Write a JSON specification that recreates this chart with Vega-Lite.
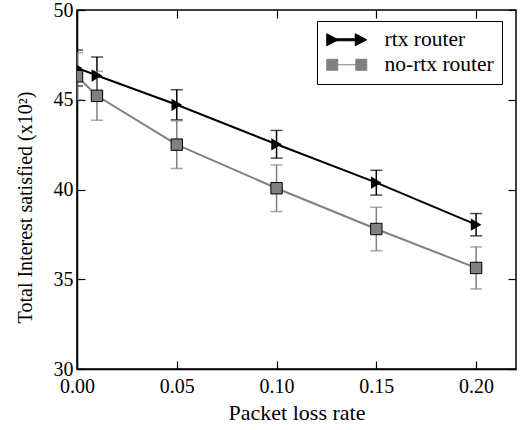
{
  "$schema": "https://vega.github.io/schema/vega-lite/v6.json",
  "width": 439,
  "height": 359,
  "autosize": {"type": "none"},
  "padding": {"left": 77, "top": 10, "right": 4, "bottom": 61},
  "background": "white",
  "config": {
    "font": "Liberation Serif",
    "view": {"stroke": "black", "strokeWidth": 1.5},
    "axis": {
      "grid": false,
      "domainColor": "black",
      "domainWidth": 1.5,
      "tickColor": "black",
      "tickWidth": 1.2,
      "tickSize": -8,
      "labelFlush": false,
      "labelColor": "black",
      "labelFont": "Liberation Serif",
      "labelFontSize": 20,
      "titleFont": "Liberation Serif",
      "titleFontSize": 20,
      "titleFontWeight": "normal",
      "titleColor": "black"
    }
  },
  "datasets": {
    "runs": [
      {"router": "rtx router", "loss": 0.0, "interest": 46.77, "err": 1.0},
      {"router": "rtx router", "loss": 0.01, "interest": 46.35, "err": 1.03},
      {"router": "rtx router", "loss": 0.05, "interest": 44.72, "err": 0.84},
      {"router": "rtx router", "loss": 0.1, "interest": 42.52, "err": 0.77},
      {"router": "rtx router", "loss": 0.15, "interest": 40.38, "err": 0.69},
      {"router": "rtx router", "loss": 0.2, "interest": 38.04, "err": 0.62},
      {"router": "no-rtx router", "loss": 0.0, "interest": 46.31, "err": 1.31},
      {"router": "no-rtx router", "loss": 0.01, "interest": 45.22, "err": 1.36},
      {"router": "no-rtx router", "loss": 0.05, "interest": 42.5, "err": 1.33},
      {"router": "no-rtx router", "loss": 0.1, "interest": 40.07, "err": 1.3},
      {"router": "no-rtx router", "loss": 0.15, "interest": 37.8, "err": 1.21},
      {"router": "no-rtx router", "loss": 0.2, "interest": 35.63, "err": 1.17}
    ]
  },
  "data": {"name": "runs"},
  "resolve": {"axis": {"x": "independent", "y": "independent"}},
  "layer": [
    {
      "transform": [{"filter": "datum.router === 'rtx router'"}],
      "mark": {"type": "errorbar", "color": "black", "ticks": {"size": 12, "thickness": 1.5, "clip": true}, "rule": {"strokeWidth": 1.5, "clip": true}},
      "encoding": {
        "x": {"field": "loss", "type": "quantitative", "scale": {"domain": [0, 0.22], "nice": false, "zero": false}, "axis": null},
        "y": {"field": "interest", "type": "quantitative", "scale": {"domain": [30, 50], "nice": false, "zero": false}, "axis": null},
        "yError": {"field": "err"}
      }
    },
    {
      "transform": [{"filter": "datum.router === 'no-rtx router'"}],
      "mark": {"type": "errorbar", "color": "#808080", "ticks": {"size": 12, "thickness": 1.5, "clip": true}, "rule": {"strokeWidth": 1.5, "clip": true}},
      "encoding": {
        "x": {"field": "loss", "type": "quantitative", "axis": null},
        "y": {"field": "interest", "type": "quantitative", "axis": null},
        "yError": {"field": "err"}
      }
    },
    {
      "mark": {"type": "line", "strokeWidth": 2, "clip": true},
      "encoding": {
        "x": {
          "field": "loss", "type": "quantitative",
          "axis": {"values": [0, 0.05, 0.1, 0.15, 0.2], "format": ".2f", "title": "Packet loss rate", "titleFontSize": 22, "labelPadding": 15, "titlePadding": 6}
        },
        "y": {
          "field": "interest", "type": "quantitative",
          "axis": {"values": [30, 35, 40, 45, 50], "title": "Total Interest satisfied (x10²)", "titleY": 197, "labelPadding": 12, "titlePadding": 18}
        },
        "color": {
          "field": "router", "type": "nominal",
          "scale": {"domain": ["rtx router", "no-rtx router"], "range": ["black", "#808080"]},
          "legend": {
            "title": null,
            "orient": "none",
            "legendX": 240,
            "legendY": 11,
            "padding": 8,
            "strokeColor": "black",
            "fillColor": "white",
            "labelFont": "Liberation Serif",
            "labelFontSize": 21.5,
            "labelColor": "black",
            "symbolSize": 400,
            "symbolOffset": 11,
            "labelOffset": 27,
            "rowPadding": 2,
            "encode": {
              "symbols": {
                "update": {
                  "shape": {"signal": "datum.value === 'rtx router' ? 'M-1.4,-0.1L1.4,-0.1L1.4,0.1L-1.4,0.1Z M-2,-0.6L-0.85,0L-2,0.6Z M0.85,-0.6L2,0L0.85,0.6Z' : 'M-2,-0.55H-0.9V0.55H-2Z M0.9,-0.55H2V0.55H0.9Z M-0.9,0H0.9'"},
                  "fill": {"signal": "datum.value === 'rtx router' ? 'black' : '#808080'"},
                  "stroke": {"signal": "datum.value === 'rtx router' ? 'black' : '#3a3a3a'"},
                  "strokeWidth": {"value": 1},
                  "opacity": {"value": 1}
                }
              }
            }
          }
        }
      }
    },
    {
      "transform": [{"filter": "datum.router === 'rtx router'"}],
      "mark": {"type": "point", "shape": "triangle-right", "filled": true, "color": "black", "opacity": 1, "size": 150, "clip": true},
      "encoding": {
        "x": {
          "field": "loss", "type": "quantitative",
          "axis": {"orient": "top", "values": [0, 0.05, 0.1, 0.15, 0.2], "labels": false, "domain": false, "title": null}
        },
        "y": {
          "field": "interest", "type": "quantitative",
          "axis": {"orient": "right", "values": [30, 35, 40, 45, 50], "labels": false, "domain": false, "title": null}
        }
      }
    },
    {
      "transform": [{"filter": "datum.router === 'no-rtx router'"}],
      "mark": {"type": "point", "shape": "square", "filled": true, "fill": "#808080", "stroke": "black", "strokeWidth": 1, "opacity": 1, "size": 130, "clip": true},
      "encoding": {
        "x": {"field": "loss", "type": "quantitative", "axis": null},
        "y": {"field": "interest", "type": "quantitative", "axis": null}
      }
    }
  ]
}
